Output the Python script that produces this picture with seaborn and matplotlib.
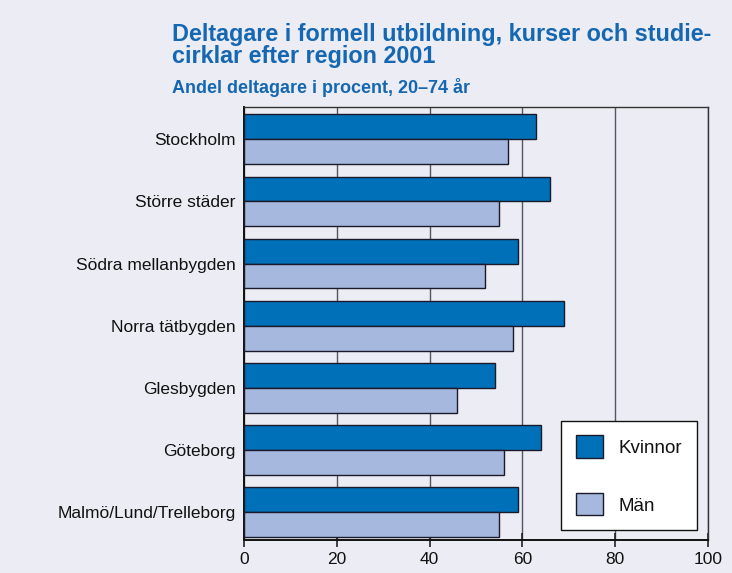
import matplotlib
matplotlib.use("Agg")
import matplotlib.pyplot as plt
import seaborn as sns
import pandas as pd

regions = ["Stockholm", "Större städer", "Södra mellanbygden", "Norra tätbygden",
           "Glesbygden", "Göteborg", "Malmö/Lund/Trelleborg"]
kvinnor = [63, 66, 59, 69, 54, 64, 59]
man = [57, 55, 52, 58, 46, 56, 55]
series_names = ["Kvinnor", "Män"]
x_ticks = [0, 20, 40, 60, 80, 100]

title = "Deltagare i formell utbildning, kurser och studie-\ncirklar efter region 2001"
subtitle = "Andel deltagare i procent, 20\u201374 år"

df = pd.DataFrame({
    "Region": regions * 2,
    "Andel": kvinnor + man,
    "Kön": [series_names[0]] * len(regions) + [series_names[1]] * len(regions),
})

bg = "#ECECF5"
blue = "#0070B8"
light = "#A6B8DE"
title_col = "#1467B0"
fam = ["Liberation Sans", "DejaVu Sans"]

sns.set_theme(style="white")
plt.rcParams["font.family"] = fam
plt.rcParams["text.color"] = "#111"
plt.rcParams["xtick.color"] = "#111"
plt.rcParams["ytick.color"] = "#111"

fig = plt.figure(figsize=(7.32, 5.73), dpi=100, facecolor=bg)
ax = fig.add_axes([0.3333, 0.0576, 0.6339, 0.7557])
ax.set_facecolor(bg)

sns.barplot(data=df, y="Region", x="Andel", hue="Kön", orient="h",
            palette=[blue, light], saturation=1, width=0.8,
            edgecolor="#1a1a2a", linewidth=1.0, ax=ax, zorder=3, legend=True)

ax.set_xlim(0, 100)
ax.set_ylim(6.45, -0.52)
ax.set_xticks(x_ticks)
ax.set_xticklabels([str(t) for t in x_ticks], fontsize=12.5)
ax.set_yticks(range(len(regions)))
ax.set_yticklabels(regions, fontsize=12.5)
ax.set_xlabel("")
ax.set_ylabel("")
ax.xaxis.grid(True, color="#555560", linewidth=1.0, zorder=0)
ax.set_axisbelow(True)
ax.tick_params(axis="x", direction="inout", length=10, width=1.2, color="#222",
               pad=4, bottom=True, labelcolor="#111")
ax.tick_params(axis="y", length=0, pad=6, labelcolor="#111")
for s in ["left", "bottom"]:
    ax.spines[s].set_color("#111")
    ax.spines[s].set_linewidth(1.4)
for s in ["top", "right"]:
    ax.spines[s].set_color("#333")
    ax.spines[s].set_linewidth(1.0)

handles, labels = ax.get_legend_handles_labels()
leg = ax.legend(handles, labels, loc="lower left", bbox_to_anchor=(0.683, 0.023),
                borderaxespad=0, frameon=True, fancybox=False,
                handlelength=1.44, handleheight=1.44, labelspacing=1.9,
                borderpad=0.78, handletextpad=0.85,
                prop={"family": fam, "size": 13.5})
leg.get_frame().set_edgecolor("#111")
leg.get_frame().set_facecolor("white")
leg.get_frame().set_alpha(1)
leg.get_frame().set_linewidth(1.0)
leg.set_zorder(5)

fig.text(0.235, 0.959, title, color=title_col, fontsize=16.8, fontweight="bold",
         va="top", ha="left", linespacing=0.92)
fig.text(0.235, 0.864, subtitle, color=title_col, fontsize=13, fontweight="bold",
         va="top", ha="left")

fig.savefig("out.png", dpi=100, facecolor=bg)
